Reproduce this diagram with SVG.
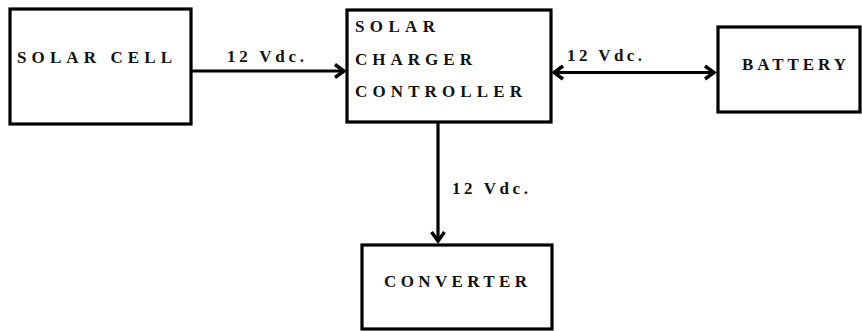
<svg xmlns="http://www.w3.org/2000/svg" width="862" height="331" viewBox="0 0 862 331">
<style>
.box{fill:#fff;stroke:#000;stroke-width:3.2}
.t{font-family:"Liberation Serif","Times New Roman",serif;font-weight:bold;font-size:17px;fill:#111}
.c{stroke:#000;stroke-width:3.2;fill:none}
</style>
<defs>
<marker id="ah" markerUnits="userSpaceOnUse" markerWidth="20" markerHeight="20" viewBox="-12 -10 14 20" refX="0" refY="0" orient="auto-start-reverse">
<path d="M-9,-6.5 L0,0 L-9,6.5" fill="none" stroke="#000" stroke-width="3.4" stroke-linejoin="miter"/>
</marker>
</defs>
<rect width="862" height="331" fill="#fff"/>
<g id="connectors">
<line class="c" x1="191" y1="71" x2="344" y2="71" marker-end="url(#ah)"/>
<line class="c" x1="554" y1="72.5" x2="714" y2="72.5" marker-start="url(#ah)" marker-end="url(#ah)"/>
<line class="c" x1="438" y1="122" x2="438" y2="241" marker-end="url(#ah)"/>
<text class="t" x="227" y="61.5" textLength="77" lengthAdjust="spacing">12 Vdc.</text>
<text class="t" x="567" y="60.5" textLength="75" lengthAdjust="spacing">12 Vdc.</text>
<text class="t" x="452" y="194" textLength="76" lengthAdjust="spacing">12 Vdc.</text>
</g>
<g id="solar-cell">
<rect class="box" x="10" y="9" width="181" height="115"/>
<text class="t" x="17" y="63" textLength="155" lengthAdjust="spacing">SOLAR CELL</text>
</g>
<g id="controller">
<rect class="box" x="347" y="10" width="204" height="112"/>
<text class="t" x="355" y="32" textLength="80" lengthAdjust="spacing">SOLAR</text>
<text class="t" x="355" y="65" textLength="117" lengthAdjust="spacing">CHARGER</text>
<text class="t" x="355" y="97" textLength="167" lengthAdjust="spacing">CONTROLLER</text>
</g>
<g id="battery">
<rect class="box" x="718" y="27" width="142" height="85"/>
<text class="t" x="742" y="70" textLength="104" lengthAdjust="spacing">BATTERY</text>
</g>
<g id="converter">
<rect class="box" x="362" y="245" width="190" height="84"/>
<text class="t" x="384" y="287" textLength="143" lengthAdjust="spacing">CONVERTER</text>
</g>
</svg>
